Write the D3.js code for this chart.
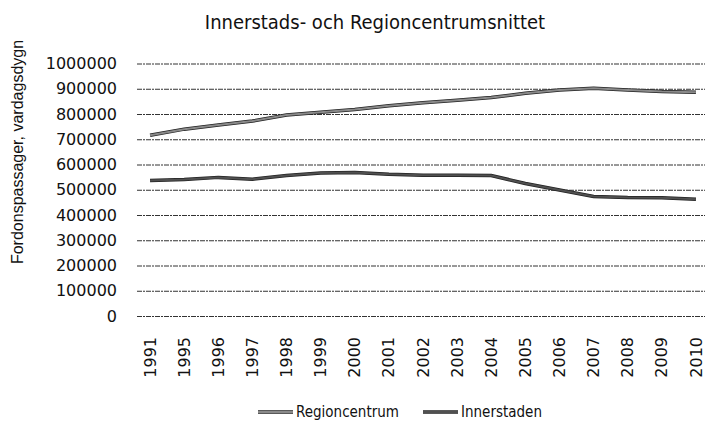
<!DOCTYPE html>
<html lang="sv">
<head>
    <meta charset="UTF-8">
    <title>Innerstads- och Regioncentrumsnittet</title>
    <style>
        body { margin: 0; background: #fff; }
        .grid line { stroke: #333; stroke-width: 1; stroke-dasharray: 5,1,2,1; }
        .grid path { display: none; }
        .tick text { font-family: "DejaVu Sans", sans-serif; font-size: 16px; fill: #111; }
        .title { font-family: "Liberation Sans Narrow", "DejaVu Sans Condensed", "Liberation Sans", sans-serif; font-size: 20px; fill: #111; }
        .ylabel { font-family: "Liberation Sans", sans-serif; font-size: 16px; fill: #111; }
        .legend text { font-family: "Liberation Sans Narrow", "DejaVu Sans Condensed", "Liberation Sans", sans-serif; font-size: 15px; fill: #111; }
    </style>
</head>
<body>
    <div id="chart"></div>

    <script src="https://d3js.org/d3.v7.min.js"></script>
    <script>
        const width = 705;
        const height = 434;

        const years = ["1991", "1995", "1996", "1997", "1998", "1999", "2000", "2001", "2002",
                       "2003", "2004", "2005", "2006", "2007", "2008", "2009", "2010"];
        const regioncentrum = [716000, 740000, 756000, 772000, 796000, 807000, 818000, 833000, 845000,
                               854000, 865000, 882000, 895000, 902000, 895000, 889000, 886000];
        const innerstaden = [537000, 541000, 549000, 542000, 556000, 566000, 568000, 561000, 557000,
                             557000, 556000, 525000, 499000, 473000, 469000, 468000, 462000];
        const yTicks = [0, 100000, 200000, 300000, 400000, 500000, 600000, 700000, 800000, 900000, 1000000];

        const series = [
            { name: "Regioncentrum", values: regioncentrum, color: "#8a8a8a" },
            { name: "Innerstaden", values: innerstaden, color: "#505050" }
        ];

        const svg = d3.select("#chart")
            .append("svg")
            .attr("width", width)
            .attr("height", height);

        const x = d3.scaleBand()
            .domain(years)
            .range([133, 713]);

        const y = d3.scaleLinear()
            .domain([0, 1000000])
            .range([316, 63.5]);

        // gridlines
        svg.append("g")
            .attr("class", "grid")
            .attr("transform", "translate(137,0)")
            .call(d3.axisLeft(y).tickValues(yTicks).tickSize(-580).tickFormat(""));

        // y tick labels
        svg.append("g")
            .attr("transform", "translate(117,0)")
            .call(d3.axisLeft(y).tickValues(yTicks).tickSize(0).tickPadding(0).tickFormat(d3.format("d")))
            .call(g => g.select(".domain").remove());

        // x tick labels (rotated)
        svg.append("g")
            .attr("transform", "translate(0,337)")
            .call(d3.axisBottom(x).tickSize(0))
            .call(g => g.select(".domain").remove())
            .selectAll("text")
            .attr("transform", "rotate(-90)")
            .attr("x", 0)
            .attr("y", 0)
            .attr("dy", "0.35em")
            .attr("text-anchor", "end");

        const line = d3.line()
            .x((d, i) => x(years[i]) + x.bandwidth() / 2)
            .y(d => y(d));

        series.forEach(s => {
            svg.append("path")
                .attr("d", line(s.values))
                .attr("fill", "none")
                .attr("stroke", "#222")
                .attr("stroke-width", 3.5);
            svg.append("path")
                .attr("d", line(s.values))
                .attr("fill", "none")
                .attr("stroke", s.color)
                .attr("stroke-width", 2);
        });

        svg.append("text")
            .attr("class", "title")
            .attr("x", 375)
            .attr("y", 29)
            .attr("text-anchor", "middle")
            .text("Innerstads- och Regioncentrumsnittet");

        svg.append("text")
            .attr("class", "ylabel")
            .attr("transform", "translate(23,152) rotate(-90)")
            .attr("text-anchor", "middle")
            .text("Fordonspassager, vardagsdygn");

        const legend = svg.append("g").attr("class", "legend");
        const legendX = [258, 423];
        series.forEach((s, i) => {
            const g = legend.append("g").attr("transform", `translate(${legendX[i]},412)`);
            g.append("line").attr("x1", 0).attr("x2", 35).attr("y1", 0).attr("y2", 0)
                .attr("stroke", "#222").attr("stroke-width", 3.5);
            g.append("line").attr("x1", 0).attr("x2", 35).attr("y1", 0).attr("y2", 0)
                .attr("stroke", s.color).attr("stroke-width", 2);
            g.append("text").attr("x", 38).attr("y", 5).text(s.name);
        });
    </script>
</body>
</html>
